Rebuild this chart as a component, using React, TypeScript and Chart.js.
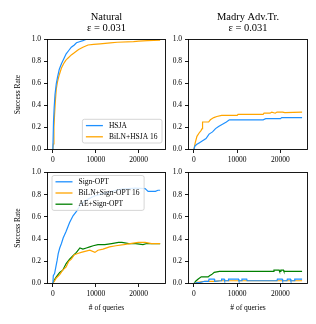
import React, { useEffect, useRef } from "react";
import { Chart, registerables } from "chart.js";

Chart.register(...registerables);

const W = 316;
const H = 324;
const FONT = "'Liberation Serif', 'Times New Roman', serif";
const BLUE = "#1e90ff";
const ORANGE = "#ffa500";
const GREEN = "#008000";

// ---------- axes ----------
const xTicks = [0, 10000, 20000];
const yTicks = [0, 0.2, 0.4, 0.6, 0.8, 1.0];
const X_MIN = -1250;
const X_MAX = 26250;

const colTitles = [["Natural", "ε = 0.031"], ["Madry Adv.Tr.", "ε = 0.031"]];
const yTitle = "Success Rate";
const xTitle = "# of queries";

// ---------- Natural / HSJA ----------
const natHsjaQ = [0, 150, 300, 500, 800, 1100, 1500, 2000, 2500, 3100, 3700, 4300, 5000, 5500, 6200, 7000, 7700, 25000];
const natHsjaV = [0, 0.25, 0.38, 0.5, 0.6, 0.66, 0.73, 0.78, 0.82, 0.87, 0.9, 0.93, 0.95, 0.97, 0.98, 0.99, 1.0, 1.0];
const natBilnHsjaQ = [0, 100, 250, 400, 600, 800, 1100, 1500, 2000, 2500, 3000, 3500, 4300, 5000, 6000, 7000, 8200, 9500, 11000, 13400, 15000, 18800, 20000, 22000, 25000];
const natBilnHsjaV = [0, 0.05, 0.2, 0.32, 0.45, 0.55, 0.62, 0.68, 0.74, 0.78, 0.81, 0.83, 0.86, 0.88, 0.91, 0.93, 0.95, 0.955, 0.96, 0.97, 0.975, 0.98, 0.985, 0.99, 0.995];

// ---------- Madry / HSJA ----------
const madHsjaQ = [0, 200, 600, 1200, 2000, 2800, 3500, 4300, 5000, 5700, 6600, 7500, 8200, 16000, 16600, 20000, 20300, 25000];
const madHsjaV = [0, 0.03, 0.045, 0.06, 0.08, 0.1, 0.14, 0.16, 0.19, 0.21, 0.23, 0.25, 0.27, 0.27, 0.28, 0.28, 0.29, 0.29];
const madBilnHsjaQ = [0, 300, 700, 1200, 1600, 1900, 2000, 3400, 3800, 4600, 5300, 6400, 10000, 10200, 16000, 16200, 17600, 18000, 18800, 19200, 20500, 21000, 25000];
const madBilnHsjaV = [0, 0.06, 0.12, 0.15, 0.17, 0.19, 0.25, 0.25, 0.27, 0.29, 0.3, 0.31, 0.31, 0.32, 0.32, 0.33, 0.33, 0.34, 0.33, 0.34, 0.34, 0.335, 0.34];

// ---------- Natural / Sign-OPT ----------
const natSignQ = [0, 100, 400, 700, 1000, 1250, 1600, 2000, 2400, 3100, 3900, 4700, 5500, 6300, 7000, 8200, 9800, 11700, 13700, 16000, 19200, 21500, 22200, 23900, 24500, 25000];
const natSignV = [0, 0.07, 0.09, 0.15, 0.21, 0.27, 0.32, 0.36, 0.41, 0.47, 0.55, 0.61, 0.65, 0.7, 0.73, 0.76, 0.79, 0.81, 0.83, 0.85, 0.86, 0.855, 0.83, 0.83, 0.84, 0.84];
const natBilnSignQ = [0, 500, 800, 1600, 2300, 3100, 3700, 4300, 5000, 5800, 6600, 7500, 8600, 9800, 10500, 11700, 13200, 14700, 16500, 18000, 19900, 21500, 23000, 25000];
const natBilnSignV = [0, 0.03, 0.05, 0.08, 0.12, 0.15, 0.2, 0.22, 0.26, 0.27, 0.28, 0.29, 0.3, 0.28, 0.3, 0.31, 0.33, 0.34, 0.35, 0.36, 0.37, 0.37, 0.36, 0.36];
const natAeSignQ = [0, 300, 800, 1600, 2300, 3100, 3900, 4700, 5500, 6300, 7000, 7800, 8600, 9400, 10500, 12100, 13700, 15300, 16100, 17700, 19300, 21000, 21900, 23400, 25000];
const natAeSignV = [0, 0.03, 0.06, 0.1, 0.12, 0.18, 0.22, 0.25, 0.28, 0.32, 0.31, 0.32, 0.33, 0.34, 0.35, 0.35, 0.36, 0.37, 0.37, 0.36, 0.36, 0.35, 0.36, 0.36, 0.36];

// ---------- Madry / Sign-OPT ----------
const madSignQ = [0, 500, 1500, 2500, 3400, 3500, 4700, 4800, 6300, 6400, 7000, 7100, 7900, 8000, 10300, 10400, 11000, 11100, 12200, 12300, 19200, 19300, 20400, 20500, 21500, 21600, 22300, 22400, 23200, 23300, 25000];
const madSignV = [0, 0.005, 0.01, 0.02, 0.02, 0.04, 0.04, 0.02, 0.025, 0.04, 0.04, 0.025, 0.025, 0.04, 0.04, 0.025, 0.025, 0.04, 0.04, 0.025, 0.025, 0.04, 0.04, 0.025, 0.025, 0.04, 0.04, 0.025, 0.025, 0.04, 0.04];
const madBilnSignQ = [0, 800, 2500, 4800, 6000, 25000];
const madBilnSignV = [0, 0.01, 0.02, 0.02, 0.025, 0.025];
const madAeSignQ = [0, 400, 1000, 1700, 3300, 3600, 4100, 4700, 5900, 18400, 18500, 19700, 19800, 19900, 20100, 20700, 20800, 25000];
const madAeSignV = [0, 0.02, 0.04, 0.06, 0.06, 0.07, 0.08, 0.1, 0.11, 0.11, 0.12, 0.12, 0.11, 0.11, 0.12, 0.12, 0.11, 0.11];

type Series = { label: string; color: string; q: number[]; v: number[] };
type PanelDef = {
  title?: string[];
  left: number; right: number; top: number; bottom: number;
  yW: number; xH: number;
  showYTitle: boolean; showXTitle: boolean;
  series: Series[];
  legend?: { corner: "lr" | "ul"; dx: number; dy: number };
};

const hsja = "HSJA";
const bilnHsja = "BiLN+HSJA 16";
const sign = "Sign-OPT";
const bilnSign = "BiLN+Sign-OPT 16";
const aeSign = "AE+Sign-OPT";

const panels: PanelDef[] = [
  {
    title: colTitles[0], left: 47.5, right: 165.5, top: 39.5, bottom: 149.5, yW: 40, xH: 20,
    showYTitle: true, showXTitle: false,
    series: [
      { label: hsja, color: BLUE, q: natHsjaQ, v: natHsjaV },
      { label: bilnHsja, color: ORANGE, q: natBilnHsjaQ, v: natBilnHsjaV },
    ],
    legend: { corner: "lr", dx: 3.5, dy: 6.5 },
  },
  {
    title: colTitles[1], left: 188.5, right: 307.5, top: 39.5, bottom: 149.5, yW: 40, xH: 20,
    showYTitle: false, showXTitle: false,
    series: [
      { label: hsja, color: BLUE, q: madHsjaQ, v: madHsjaV },
      { label: bilnHsja, color: ORANGE, q: madBilnHsjaQ, v: madBilnHsjaV },
    ],
  },
  {
    left: 47.5, right: 165.5, top: 172.5, bottom: 283.5, yW: 40, xH: 30,
    showYTitle: true, showXTitle: true,
    series: [
      { label: sign, color: BLUE, q: natSignQ, v: natSignV },
      { label: bilnSign, color: ORANGE, q: natBilnSignQ, v: natBilnSignV },
      { label: aeSign, color: GREEN, q: natAeSignQ, v: natAeSignV },
    ],
    legend: { corner: "ul", dx: 4.5, dy: 3 },
  },
  {
    left: 188.5, right: 307.5, top: 172.5, bottom: 283.5, yW: 40, xH: 30,
    showYTitle: false, showXTitle: true,
    series: [
      { label: sign, color: BLUE, q: madSignQ, v: madSignV },
      { label: bilnSign, color: ORANGE, q: madBilnSignQ, v: madBilnSignV },
      { label: aeSign, color: GREEN, q: madAeSignQ, v: madAeSignV },
    ],
  },
];

const framePlugin = {
  id: "frameAndExtras",
  afterDatasetsDraw(chart: any) {
    const def: PanelDef = chart.options.plugins.frameAndExtras.def;
    const { ctx, chartArea: a } = chart;
    ctx.save();
    ctx.strokeStyle = "#000";
    ctx.lineWidth = 0.9;
    ctx.strokeRect(a.left, a.top, a.right - a.left, a.bottom - a.top);

    // titles
    if (def.title) {
      ctx.fillStyle = "#000";
      ctx.font = `10.5px ${FONT}`;
      ctx.textAlign = "center";
      ctx.textBaseline = "alphabetic";
      const cx = (a.left + a.right) / 2;
      ctx.fillText(def.title[0], cx, 20);
      ctx.fillText(def.title[1], cx, 30.5);
    }

    // legend
    if (def.legend) {
      ctx.font = `7.5px ${FONT}`;
      const items = def.series;
      let tw = 0;
      items.forEach((s) => (tw = Math.max(tw, ctx.measureText(s.label).width)));
      const rowH = 11.2;
      const bw = 3.5 + 17 + 6 + tw + 4.5;
      const bh = 12.5 + rowH * (items.length - 1);
      let bx: number, by: number;
      if (def.legend.corner === "lr") {
        bx = a.right - def.legend.dx - bw;
        by = a.bottom - def.legend.dy - bh;
      } else {
        bx = a.left + def.legend.dx;
        by = a.top + def.legend.dy;
      }
      const r = 2;
      ctx.beginPath();
      ctx.moveTo(bx + r, by);
      ctx.lineTo(bx + bw - r, by);
      ctx.arcTo(bx + bw, by, bx + bw, by + r, r);
      ctx.lineTo(bx + bw, by + bh - r);
      ctx.arcTo(bx + bw, by + bh, bx + bw - r, by + bh, r);
      ctx.lineTo(bx + r, by + bh);
      ctx.arcTo(bx, by + bh, bx, by + bh - r, r);
      ctx.lineTo(bx, by + r);
      ctx.arcTo(bx, by, bx + r, by, r);
      ctx.closePath();
      ctx.fillStyle = "rgba(255,255,255,0.85)";
      ctx.fill();
      ctx.strokeStyle = "#cccccc";
      ctx.lineWidth = 0.8;
      ctx.stroke();
      items.forEach((s, i) => {
        const y = by + 6.3 + i * rowH;
        ctx.strokeStyle = s.color;
        ctx.lineWidth = 1.3;
        ctx.beginPath();
        ctx.moveTo(bx + 3.5, y);
        ctx.lineTo(bx + 3.5 + 17, y);
        ctx.stroke();
        ctx.fillStyle = "#000";
        ctx.textAlign = "left";
        ctx.textBaseline = "middle";
        ctx.fillText(s.label, bx + 3.5 + 17 + 6, y + 0.3);
      });
    }
    ctx.restore();
  },
};

function buildConfig(def: PanelDef): any {
  const tickFont = { family: FONT, size: 7.5 };
  return {
    type: "line",
    data: {
      datasets: def.series.map((s) => ({
        label: s.label,
        data: s.q.map((q, i) => ({ x: q, y: s.v[i] })),
        borderColor: s.color,
        backgroundColor: s.color,
        borderWidth: 1.2,
        pointRadius: 0,
        tension: 0,
        fill: false,
      })),
    },
    options: {
      animation: false,
      responsive: false,
      devicePixelRatio: 1,
      events: [],
      layout: {
        padding: {
          left: def.left - def.yW,
          right: W - def.right,
          top: def.top,
          bottom: H - def.bottom - def.xH,
        },
      },
      plugins: {
        legend: { display: false },
        tooltip: { enabled: false },
        title: { display: false },
        frameAndExtras: { def },
      },
      scales: {
        x: {
          type: "linear",
          min: X_MIN,
          max: X_MAX,
          afterBuildTicks: (s: any) => {
            s.ticks = xTicks.map((v) => ({ value: v }));
          },
          afterFit: (s: any) => {
            s.height = def.xH;
          },
          ticks: {
            callback: (v: any) => String(v),
            font: tickFont,
            color: "#000",
            padding: 3,
            maxRotation: 0,
            autoSkip: false,
          },
          grid: { display: true, drawOnChartArea: false, drawTicks: true, tickLength: 3.5, color: "#000", lineWidth: 0.9 },
          border: { display: false },
          title: {
            display: def.showXTitle,
            text: xTitle,
            font: { family: FONT, size: 7.5 },
            color: "#000",
            padding: { top: 0, bottom: 1 },
          },
        },
        y: {
          type: "linear",
          min: 0,
          max: 1,
          afterBuildTicks: (s: any) => {
            s.ticks = yTicks.map((v) => ({ value: v }));
          },
          afterFit: (s: any) => {
            s.width = def.yW;
          },
          ticks: {
            callback: (v: any) => Number(v).toFixed(1),
            font: tickFont,
            color: "#000",
            padding: 3,
            autoSkip: false,
          },
          grid: { display: true, drawOnChartArea: false, drawTicks: true, tickLength: 3.5, color: "#000", lineWidth: 0.9 },
          border: { display: false },
          title: {
            display: def.showYTitle,
            text: yTitle,
            font: { family: FONT, size: 7.5 },
            color: "#000",
            padding: { top: 6.3, bottom: 0 },
          },
        },
      },
    },
    plugins: [framePlugin],
  };
}

function Panel({ def }: { def: PanelDef }) {
  const ref = useRef<HTMLCanvasElement | null>(null);
  useEffect(() => {
    if (!ref.current) return;
    const chart = new Chart(ref.current, buildConfig(def));
    return () => chart.destroy();
  }, [def]);
  return (
    <canvas
      ref={ref}
      width={W}
      height={H}
      style={{ position: "absolute", left: 0, top: 0, width: W, height: H }}
    />
  );
}

export default function App() {
  return (
    <div style={{ position: "fixed", left: 0, top: 0, width: W, height: H, background: "#fff", overflow: "hidden" }}>
      {panels.map((p, i) => (
        <Panel key={i} def={p} />
      ))}
    </div>
  );
}
